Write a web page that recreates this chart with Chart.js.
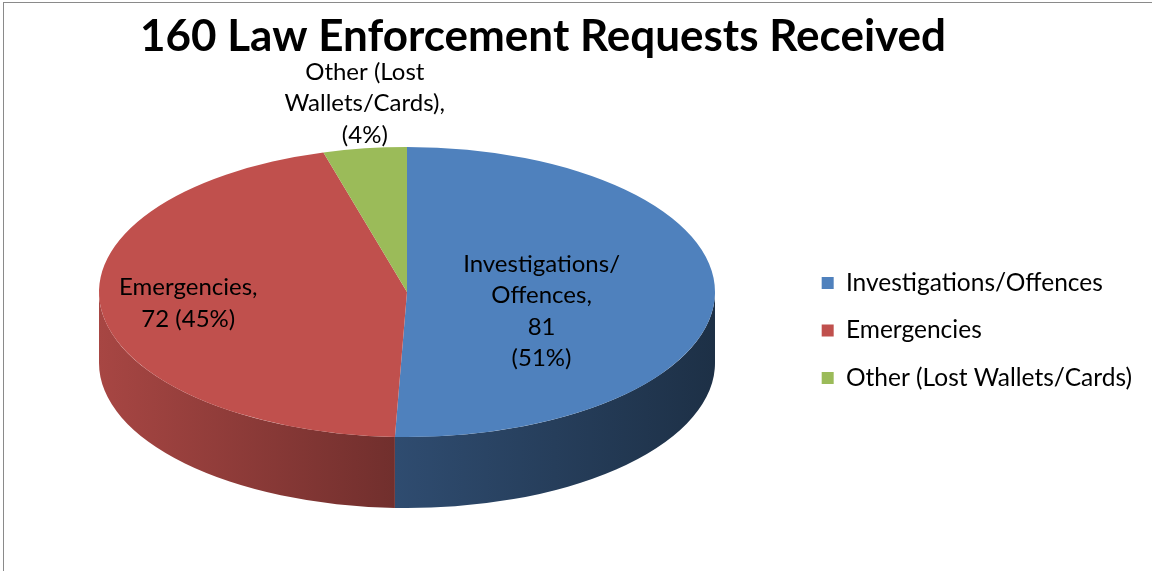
<!DOCTYPE html>
<html>
<head>
<meta charset="utf-8">
<script src="https://cdn.jsdelivr.net/npm/chart.js@4"></script>
<style>
  html, body { margin: 0; padding: 0; background: #fff; }
  #wrap { position: absolute; left: 0; top: 0; width: 1152px; height: 571px; }
  #frame { position: absolute; left: 3px; top: 2px; width: 1200px; height: 700px;
           border-left: 1px solid #8a8a8a; border-top: 1px solid #8a8a8a; pointer-events: none; }
</style>
</head>
<body>
<div id="wrap"><canvas id="chPie"></canvas></div>
<div id="frame"></div>
<script>
var titleText = '160 Law Enforcement Requests Received';
var categories = ['Investigations/Offences', 'Emergencies', 'Other (Lost Wallets/Cards)'];
var requests = [81, 72, 7];
// how each data label is broken into lines ({v} = value, {p} = percent)
var labelLines = [
    ['Investigations/', 'Offences,', '{v}', '({p}%)'],
    ['Emergencies,', '{v} ({p}%)'],
    ['Other (Lost', 'Wallets/Cards),', '({p}%)']
];

var colors = ['#4F81BD', '#C0504D', '#9BBB59'];
// the flat pie is laid down as a tilted disc with a visible side wall
var disc = { cx: 407, cy: 292, rx: 308, ry: 145, depth: 71 };
var labelRadius = [0.437, 0.715, 1.0];
var labelShift = [18, -1, -45];
var labelFont = '24px Lato';
var labelLineHeight = 31.5;

function shade(hex, f) {
    var n = parseInt(hex.slice(1), 16);
    var r = Math.round(((n >> 16) & 255) * f);
    var g = Math.round(((n >> 8) & 255) * f);
    var b = Math.round((n & 255) * f);
    return 'rgb(' + r + ',' + g + ',' + b + ')';
}

var tiltedPie = {
    id: 'tiltedPie',
    beforeDatasetsDraw: function (chart) {
        var ctx = chart.ctx;
        var meta = chart.getDatasetMeta(0);
        var arc0 = meta.data[0];

        // side wall: only the front half (0..PI) can be seen
        meta.data.forEach(function (arc, i) {
            var a = Math.max(arc.startAngle, 0);
            var b = Math.min(arc.endAngle, Math.PI);
            if (b <= a) return;
            var g = ctx.createLinearGradient(disc.cx - disc.rx, 0, disc.cx + disc.rx, 0);
            g.addColorStop(0, shade(colors[i], 0.87));
            g.addColorStop(0.48, shade(colors[i], 0.59));
            g.addColorStop(1, shade(colors[i], 0.37));
            ctx.beginPath();
            ctx.ellipse(disc.cx, disc.cy, disc.rx, disc.ry, 0, a, b);
            ctx.ellipse(disc.cx, disc.cy + disc.depth, disc.rx, disc.ry, 0, b, a, true);
            ctx.closePath();
            ctx.fillStyle = g;
            ctx.fill();
        });

        // squash the round pie into the top face
        ctx.save();
        var k = 1 / arc0.outerRadius;
        ctx.translate(disc.cx, disc.cy);
        ctx.scale(disc.rx * k, disc.ry * k);
        ctx.translate(-arc0.x, -arc0.y);
    },
    afterDatasetsDraw: function (chart) {
        var ctx = chart.ctx;
        ctx.restore();
        var meta = chart.getDatasetMeta(0);
        var total = requests.reduce(function (s, v) { return s + v; }, 0);
        ctx.save();
        ctx.font = labelFont;
        ctx.fillStyle = '#000';
        ctx.textAlign = 'center';
        ctx.textBaseline = 'middle';
        meta.data.forEach(function (arc, i) {
            var mid = (arc.startAngle + arc.endAngle) / 2;
            var x = disc.cx + labelRadius[i] * disc.rx * Math.cos(mid);
            var y = disc.cy + labelRadius[i] * disc.ry * Math.sin(mid) + labelShift[i];
            var pct = Math.round(requests[i] / total * 100);
            var lines = labelLines[i].map(function (s) {
                return s.replace('{v}', requests[i]).replace('{p}', pct);
            });
            lines.forEach(function (s, j) {
                ctx.fillText(s, x, y + (j - (lines.length - 1) / 2) * labelLineHeight);
            });
        });
        ctx.restore();
    }
};

new Chart(document.getElementById('chPie'), {
    type: 'pie',
    data: {
        labels: categories,
        datasets: [{
            data: requests,
            backgroundColor: colors,
            borderWidth: 0,
            clip: false
        }]
    },
    options: {
        responsive: true,
        maintainAspectRatio: false,
        animation: false,
        events: [],
        layout: { padding: { left: 140, right: 10 } },
        plugins: {
            title: {
                display: true,
                text: titleText,
                align: 'start',
                color: '#000',
                font: { family: 'Lato', size: 44, weight: 'bold' },
                padding: { top: 10, bottom: 27 }
            },
            legend: {
                position: 'right',
                fullSize: false,
                labels: {
                    boxWidth: 12,
                    boxHeight: 12,
                    padding: 23,
                    color: '#000',
                    font: { family: 'Lato', size: 24.5 }
                }
            },
            tooltip: { enabled: false }
        }
    },
    plugins: [tiltedPie]
});
</script>
</body>
</html>
